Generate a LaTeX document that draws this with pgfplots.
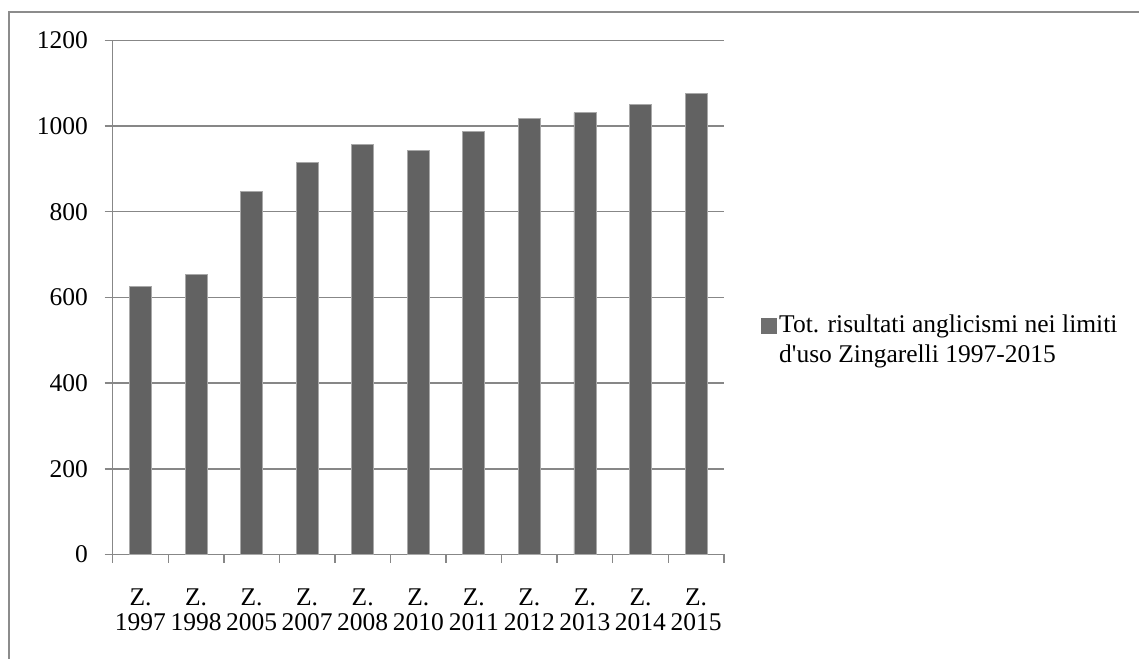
\documentclass[border=0pt]{standalone}
\usepackage{fontspec}
\setmainfont{Liberation Serif}
\usepackage{pgfplots}
\pgfplotsset{compat=1.18}
\definecolor{barc}{HTML}{626262}
\definecolor{gridc}{HTML}{878787}
\definecolor{edgec}{HTML}{A8A8A8}
\definecolor{framec}{HTML}{8C8C8C}
\begin{document}
\fontsize{12.75pt}{15pt}\selectfont
\begin{tikzpicture}
\useasboundingbox (0,0) rectangle (569.5pt,329pt);
\begin{axis}[
  at={(56.35pt,51.75pt)}, anchor=south west,
  scale only axis, width=305.55pt, height=257.1pt,
  xmin=-0.5, xmax=10.5, ymin=0, ymax=1200,
  ytick={0,200,...,1200},
  xtick={0,...,10},
  xticklabels={{Z.\\[-2.5pt]1997},{Z.\\[-2.5pt]1998},{Z.\\[-2.5pt]2005},{Z.\\[-2.5pt]2007},{Z.\\[-2.5pt]2008},{Z.\\[-2.5pt]2010},{Z.\\[-2.5pt]2011},{Z.\\[-2.5pt]2012},{Z.\\[-2.5pt]2013},{Z.\\[-2.5pt]2014},{Z.\\[-2.5pt]2015}},
  minor xtick={-0.5,0.5,...,10.5},
  axis x line*=bottom, axis y line*=left,
  axis line style={gridc, line width=0.75pt},
  ymajorgrids, grid style={gridc, line width=0.75pt},
  tick align=outside, major tick length=4pt, minor tick length=4pt,
  tick style={gridc, line width=0.75pt},
  major x tick style={draw=none},
  /pgf/number format/assume math mode=true,
  /pgf/number format/set thousands separator={},
  ticklabel style={font=\fontsize{12.75pt}{15pt}\selectfont},
  xticklabel style={align=center, yshift=-8.5pt},
  yticklabel style={xshift=-4pt},
  legend style={draw=none, fill=none, inner sep=0pt,
    at={(rel axis cs:1.0609,0.4153)}, anchor=west,
    font=\fontsize{12.75pt}{15pt}\selectfont,
    nodes={inner sep=1pt}, cells={align=left}},
  legend image code/.code={\fill[barc!92!white] (0pt,3.75pt) rectangle (7.5pt,11.25pt);},
]
\addplot[ybar, bar width=11pt, fill=barc, draw=edgec, line width=0.4pt]
coordinates {
(0,626)
(1,654)
(2,848)
(3,915)
(4,956)
(5,942)
(6,987)
(7,1017)
(8,1031)
(9,1050)
(10,1075)
};
\addlegendentry{Tot. risultati anglicismi nei limiti\\d\textquotesingle uso Zingarelli 1997-2015}
\end{axis}
\draw[framec, line width=1pt] (4.3pt,-5pt) |- (580pt,322.85pt);
\end{tikzpicture}
\end{document}
